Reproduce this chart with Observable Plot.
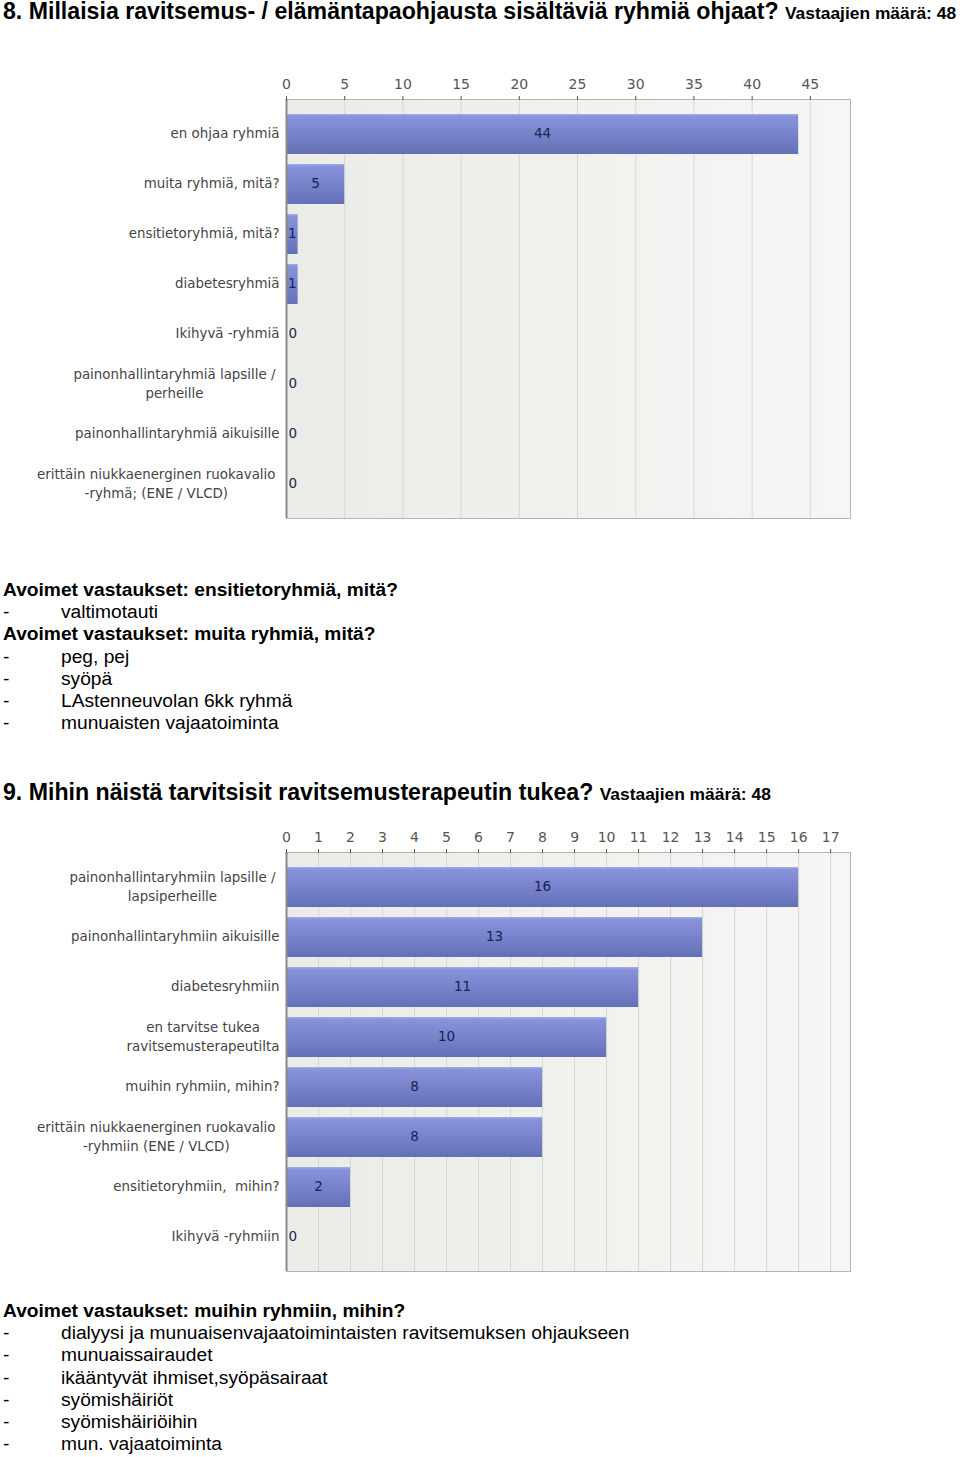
<!DOCTYPE html>
<html><head><meta charset="utf-8">
<script src="https://cdn.jsdelivr.net/npm/d3@7"></script>
<script src="https://cdn.jsdelivr.net/npm/@observablehq/plot@0.6"></script>
<style>
body{margin:0;background:#fff;}
#page{position:relative;width:960px;height:1457px;overflow:hidden;font-family:"Liberation Sans",Arial,sans-serif;color:#000;}
.title{position:absolute;left:3px;white-space:nowrap;font-weight:bold;font-size:23.15px;line-height:24px;}
.title .n{font-size:17.4px;}
.open{position:absolute;left:3px;font-size:19.2px;line-height:22.2px;white-space:nowrap;}
.open .h{font-weight:bold;}
.open .it{position:relative;height:22.2px;}
.open .it span{position:absolute;left:58px;top:0;}
.chart{position:absolute;left:0;}
</style></head>
<body><div id="page"></div>
<script>
// ---- Data ----
const q8Title = "8. Millaisia ravitsemus- / elämäntapaohjausta sisältäviä ryhmiä ohjaat?";
const q8Count = "Vastaajien määrä: 48";
const q8Categories = [
  "en ohjaa ryhmiä",
  "muita ryhmiä, mitä?",
  "ensitietoryhmiä, mitä?",
  "diabetesryhmiä",
  "Ikihyvä -ryhmiä",
  "painonhallintaryhmiä lapsille /\nperheille",
  "painonhallintaryhmiä aikuisille",
  "erittäin niukkaenerginen ruokavalio\n-ryhmä; (ENE / VLCD)"
];
const q8Values = [44, 5, 1, 1, 0, 0, 0, 0];
const q8Ticks = [0, 5, 10, 15, 20, 25, 30, 35, 40, 45];
const q8Open = [
  {heading: "Avoimet vastaukset: ensitietoryhmiä, mitä?", items: ["valtimotauti"]},
  {heading: "Avoimet vastaukset: muita ryhmiä, mitä?", items: ["peg, pej", "syöpä", "LAstenneuvolan 6kk ryhmä", "munuaisten vajaatoiminta"]}
];

const q9Title = "9. Mihin näistä tarvitsisit ravitsemusterapeutin tukea?";
const q9Count = "Vastaajien määrä: 48";
const q9Categories = [
  "painonhallintaryhmiin lapsille /\nlapsiperheille",
  "painonhallintaryhmiin aikuisille",
  "diabetesryhmiin",
  "en tarvitse tukea\nravitsemusterapeutilta",
  "muihin ryhmiin, mihin?",
  "erittäin niukkaenerginen ruokavalio\n-ryhmiin (ENE / VLCD)",
  "ensitietoryhmiin,  mihin?",
  "Ikihyvä -ryhmiin"
];
const q9Values = [16, 13, 11, 10, 8, 8, 2, 0];
const q9Ticks = [0, 1, 2, 3, 4, 5, 6, 7, 8, 9, 10, 11, 12, 13, 14, 15, 16, 17];
const q9Open = [
  {heading: "Avoimet vastaukset: muihin ryhmiin, mihin?", items: [
    "dialyysi ja munuaisenvajaatoimintaisten ravitsemuksen ohjaukseen",
    "munuaissairaudet",
    "ikääntyvät ihmiset,syöpäsairaat",
    "syömishäiriöt",
    "syömishäiriöihin",
    "mun. vajaatoiminta"
  ]}
];

// ---- Helpers ----
const page = document.getElementById("page");

function addTitle(text, count, top) {
  const d = document.createElement("div");
  d.className = "title";
  d.style.top = top + "px";
  d.appendChild(document.createTextNode(text + " "));
  const s = document.createElement("span");
  s.className = "n";
  s.textContent = count;
  d.appendChild(s);
  page.appendChild(d);
}

function addOpen(groups, top) {
  const d = document.createElement("div");
  d.className = "open";
  d.style.top = top + "px";
  groups.forEach(g => {
    const h = document.createElement("div");
    h.className = "h";
    h.textContent = g.heading;
    d.appendChild(h);
    g.items.forEach(it => {
      const r = document.createElement("div");
      r.className = "it";
      r.appendChild(document.createTextNode("-"));
      const s = document.createElement("span");
      s.textContent = it;
      r.appendChild(s);
      d.appendChild(r);
    });
  });
  page.appendChild(d);
}

const LABEL_SIZE = 13.4;
const ctx = document.createElement("canvas").getContext("2d");
ctx.font = `${LABEL_SIZE}px 'DejaVu Sans'`;

function drawChart(cats, vals, ticks, xMax, id, top, height, mt, mb) {
  const data = cats.map((c, i) => ({cat: c, value: vals[i]}));
  const labelMarks = cats.map(c => {
    const lines = c.split("\n");
    const w = d3.max(lines, l => ctx.measureText(l).width);
    const gap = lines.length > 1 && w > 180 ? 11 : 7;
    return Plot.text([c], {
      y: d => d, text: d => d, frameAnchor: "left", textAnchor: "middle",
      dx: -(gap + w / 2), dy: -2.5, lineHeight: 1.42, fill: "#444", fontSize: LABEL_SIZE
    });
  });
  const svg = Plot.plot({
    width: 960, height, marginTop: mt, marginBottom: mb, marginLeft: 286, marginRight: 110,
    x: {domain: [0, xMax], axis: null},
    y: {domain: cats, paddingInner: 0.2, paddingOuter: 0.29, axis: null},
    style: {fontFamily: "'DejaVu Sans', sans-serif", fontSize: "13px", background: "transparent"},
    marks: [
      Plot.frame({fill: `url(#bg-${id})`}),
      Plot.gridX(ticks, {stroke: "#d6d6d6", strokeOpacity: 1}),
      Plot.barX(data, {y: "cat", x: "value", fill: `url(#bar-${id})`}),
      Plot.frame({stroke: "#b4b4b4"}),
      Plot.ruleX([0], {stroke: "#8a8a8a", strokeWidth: 2}),
      Plot.axisX(ticks, {anchor: "top", label: null, tickSize: 4, tickPadding: 7, color: "#555", fontSize: 14}),
      Plot.text(data.filter(d => d.value > 0), {
        y: "cat", x: d => d.value / 2, text: d => String(d.value), dy: -1, fill: "#1a2352", fontSize: 13.5
      }),
      Plot.text(data.filter(d => d.value === 0), {
        y: "cat", x: 0, text: d => String(d.value), textAnchor: "start", dx: 2, dy: -1, fill: "#1a2352", fontSize: 13.5
      }),
      ...labelMarks
    ]
  });
  const defs = d3.select(svg).insert("defs", ":first-child");
  const bg = defs.append("linearGradient").attr("id", `bg-${id}`).attr("x1", 0).attr("x2", 1).attr("y1", 0).attr("y2", 0);
  bg.append("stop").attr("offset", 0).attr("stop-color", "#eaece7");
  bg.append("stop").attr("offset", 1).attr("stop-color", "#f6f7f4");
  const bar = defs.append("linearGradient").attr("id", `bar-${id}`).attr("x1", 0).attr("x2", 0).attr("y1", 0).attr("y2", 1);
  bar.append("stop").attr("offset", 0).attr("stop-color", "#a4aee9");
  bar.append("stop").attr("offset", 0.06).attr("stop-color", "#8893dc");
  bar.append("stop").attr("offset", 1).attr("stop-color", "#6470b6");
  const wrap = document.createElement("div");
  wrap.className = "chart";
  wrap.style.top = top + "px";
  wrap.appendChild(svg);
  page.appendChild(wrap);
}

// ---- Layout ----
addTitle(q8Title, q8Count, -1);
drawChart(q8Categories, q8Values, q8Ticks, 48.45, "q8", 30, 500, 69, 12);
addOpen(q8Open, 579);
addTitle(q9Title, q9Count, 780);
drawChart(q9Categories, q9Values, q9Ticks, 17.62, "q9", 805, 475, 47, 9);
addOpen(q9Open, 1300);
</script>
</body></html>
